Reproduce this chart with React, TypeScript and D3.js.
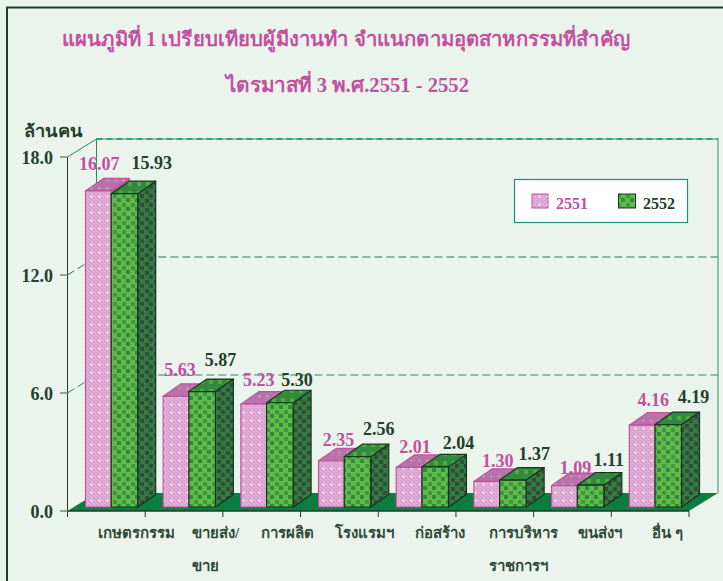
import React from "react";
import * as d3 from "d3";

const categories = ["เกษตรกรรม", "ขายส่ง/|ขาย", "การผลิต", "โรงแรมฯ", "ก่อสร้าง", "การบริหาร|ราชการฯ", "ขนส่งฯ", "อื่น ๆ"];
const values2551 = [16.07, 5.63, 5.23, 2.35, 2.01, 1.3, 1.09, 4.16];
const values2552 = [15.93, 5.87, 5.3, 2.56, 2.04, 1.37, 1.11, 4.19];
const yTicks = [0, 6, 12, 18];
const titleLines = ["แผนภูมิที่ 1 เปรียบเทียบผู้มีงานทำ  จำแนกตามอุตสาหกรรมที่สำคัญ", "ไตรมาสที่ 3  พ.ศ.2551 - 2552"];
const yUnit = "ล้านคน";
const seriesNames = ["2551", "2552"];

// label nudges relative to computed bar tops
const pinkDx = [1, 4, 5, 7, 6, 11, 11, 11];
const pinkDy = [-21, -20, -18, -15, -14, -14, -12, -19];
const greenDx = [5, -4, -5, -1, 1, -1, -4, 3];
const greenDy = [-25, -26, -17, -22, -18, -20, -19, -22];
const catDx = [30, 32, 26, 25, 23, 28, 28, 17];
const catWrapWidth = [0, 48, 0, 0, 0, 68, 0, 0];

const FONT = "'Liberation Serif', 'Noto Sans', serif";
const PINK = "#C2509F";
const DARK = "#22402C";
const BG = "#EAF4EC";

const App = () => {
  const x = d3.scaleBand<number>().domain(d3.range(8)).range([67.5, 689]);
  const y = d3.scaleLinear().domain([0, 18]).range([511, 157]);
  const backDx = 29, backDy = -18;
  const barDx = 18, barDy = -12.5;
  const baseY = 507;
  const h = (v: number) => y(0) - y(v);
  const pinkX = (i: number) => (x(i) as number) + 18;
  const pinkW = 25.7;
  const greenW = 26.5;

  const box = (x0: number, w: number, v: number, front: string, side: string, top: string, stroke: string) => {
    const t = baseY - h(v);
    const x1 = x0 + w;
    return (
      <g stroke={stroke} strokeWidth={1.2} strokeLinejoin="round">
        <path d={`M${x1},${t}L${x1 + barDx},${t + barDy}V${baseY + barDy}L${x1},${baseY}Z`} fill={side} />
        <path d={`M${x0},${t}L${x0 + barDx},${t + barDy}H${x1 + barDx}L${x1},${t}Z`} fill={top} />
        <rect x={x0} y={t} width={w} height={baseY - t} fill={front} />
      </g>
    );
  };

  return (
    <svg width={723} height={581} style={{ position: "absolute", left: 0, top: 0, background: BG }} fontFamily={FONT}>
      <defs>
        <pattern id="pinkF" width={8} height={8} patternUnits="userSpaceOnUse">
          <rect width={8} height={8} fill="#E0ABD4" />
          <path d="M0,0h1v1h-1zM2,2h1v1h-1zM4,0h1v1h-1zM6,2h1v1h-1zM0,4h1v1h-1zM2,6h1v1h-1zM4,4h1v1h-1zM6,6h1v1h-1z" fill="#CF8FC3" />
          <path d="M3.5,3.5v2M2.5,4.5h2" stroke="#fff" strokeWidth={1} />
        </pattern>
        <pattern id="pinkT" width={8} height={8} patternUnits="userSpaceOnUse">
          <rect width={8} height={8} fill="#B873A9" />
          <path d="M3.5,3.5v2M2.5,4.5h2" stroke="#D0ABC8" strokeWidth={1} />
        </pattern>
        <pattern id="greenF" width={9} height={9} patternUnits="userSpaceOnUse">
          <rect width={9} height={9} fill="#64BA45" />
          <rect x={0} y={0} width={4} height={4} fill="#2F8C46" />
          <rect x={5} y={5} width={4} height={4} fill="#3B9A45" />
        </pattern>
        <pattern id="greenS" width={9} height={9} patternUnits="userSpaceOnUse">
          <rect width={9} height={9} fill="#2F7D40" />
          <rect x={1} y={1} width={4} height={4} fill="#3A4A3A" />
          <rect x={5} y={5} width={4} height={4} fill="#3A4A3A" />
        </pattern>
        <pattern id="greenT" width={9} height={9} patternUnits="userSpaceOnUse">
          <rect width={9} height={9} fill="#338A3E" />
          <rect x={2} y={2} width={4} height={4} fill="#4FAA42" />
        </pattern>
      </defs>

      {/* frame */}
      <path d="M723,7.5H7V581" fill="none" stroke="#1F3D2A" strokeWidth={2} />

      {/* title */}
      <text x={62} y={46} fontSize={20} fontWeight="bold" fill={PINK} textLength={568} lengthAdjust="spacingAndGlyphs">{titleLines[0]}</text>
      <text x={226} y={92} fontSize={20} fontWeight="bold" fill={PINK} textLength={243} lengthAdjust="spacingAndGlyphs">{titleLines[1]}</text>

      {/* walls */}
      <path d={`M${67.5 + backDx},${y(18) + backDy}H${689 + backDx}V${y(0) + backDy}`} fill="none" stroke="#6FB596" strokeWidth={1.5} />
      <path d={`M${67.5 + backDx},${y(18) + backDy}H${689 + backDx}`} fill="none" stroke="#1E8F6A" strokeWidth={1.5} strokeDasharray="6 4" />
      <path d={`M${67.5 + backDx},${y(0) + backDy}V${y(18) + backDy}L67.5,${y(18)}`} fill="none" stroke="#1E8F6A" strokeWidth={1} />
      {yTicks.filter((t) => t > 0 && t < 18).map((t) => (
        <path key={t} d={`M67.5,${y(t)}L${67.5 + backDx},${y(t) + backDy}H${689 + backDx}`} fill="none" stroke={t === 12 ? "#2F6F62" : "#1F8A80"} strokeWidth={1} strokeDasharray="8 4" />
      ))}
      {/* floor */}
      <path d={`M67.5,${y(0)}L${67.5 + backDx},${y(0) + backDy}H${689 + backDx}L689,${y(0)}Z`} fill="#0C7C40" />

      {/* axes */}
      <path d={`M67.5,${y(18)}V${y(0) + 6}`} stroke="#1F3D2A" strokeWidth={1} fill="none" />
      <path d={`M67.5,${y(0)}H689`} stroke="#1F3D2A" strokeWidth={1.5} fill="none" />
      {yTicks.map((t) => (
        <g key={t}>
          <line x1={60} x2={67.5} y1={y(t)} y2={y(t)} stroke="#7A8A7E" strokeWidth={1.5} />
          <text x={53} y={y(t) + 7} textAnchor="end" fontSize={18} fontWeight="bold" fill={DARK}>{t.toFixed(1)}</text>
        </g>
      ))}
      {d3.range(1, 9).map((i) => {
        const tx = 67.5 + (i * (689 - 67.5)) / 8;
        return <line key={i} x1={tx} x2={tx} y1={y(0)} y2={y(0) + 6} stroke="#1F3D2A" strokeWidth={1} />;
      })}
      <text x={24} y={137} fontSize={17} fontWeight="bold" fill={DARK} textLength={59} lengthAdjust="spacingAndGlyphs">{yUnit}</text>

      {/* bars */}
      {categories.map((_, i) => (
        <g key={i}>
          {box(pinkX(i), pinkW, values2551[i], "url(#pinkF)", "#B266A4", "url(#pinkT)", PINK)}
          {box(pinkX(i) + pinkW, greenW, values2552[i], "url(#greenF)", "url(#greenS)", "url(#greenT)", "#16361F")}
        </g>
      ))}

      {/* value labels */}
      {categories.map((_, i) => (
        <g key={i} fontSize={18} fontWeight="bold" textAnchor="middle">
          <text x={pinkX(i) + pinkW / 2 + pinkDx[i]} y={baseY - h(values2551[i]) + pinkDy[i]} fill={PINK}>{values2551[i].toFixed(2)}</text>
          <text x={pinkX(i) + pinkW + greenW + barDx / 2 + greenDx[i]} y={baseY - h(values2552[i]) + greenDy[i]} fill={DARK}>{values2552[i].toFixed(2)}</text>
        </g>
      ))}

      {/* category labels */}
      {categories.map((c, i) => {
        const [a, b] = c.split("|");
        const cx = (x(i) as number) + x.bandwidth() / 2 + catDx[i];
        const wrap = catWrapWidth[i];
        const lx = cx - wrap / 2;
        return (
          <g key={i} fontSize={15} fontWeight="bold" fill="#2E4A38">
            <text x={wrap ? lx : cx} y={538} textAnchor={wrap ? "start" : "middle"}>{a}</text>
            {b && <text x={lx} y={571}>{b}</text>}
          </g>
        );
      })}

      {/* legend */}
      <rect x={514.5} y={179.5} width={173} height={43} fill="#fff" stroke="#1F9088" strokeWidth={1.2} />
      <rect x={532} y={194} width={16} height={14} fill="url(#pinkF)" stroke={PINK} />
      <text x={556} y={209} fontSize={16} fontWeight="bold" fill={PINK}>{seriesNames[0]}</text>
      <rect x={618.5} y={194} width={17} height={14} fill="url(#greenF)" stroke="#16361F" />
      <text x={643} y={209} fontSize={16} fontWeight="bold" fill={DARK}>{seriesNames[1]}</text>
    </svg>
  );
};

export default App;
